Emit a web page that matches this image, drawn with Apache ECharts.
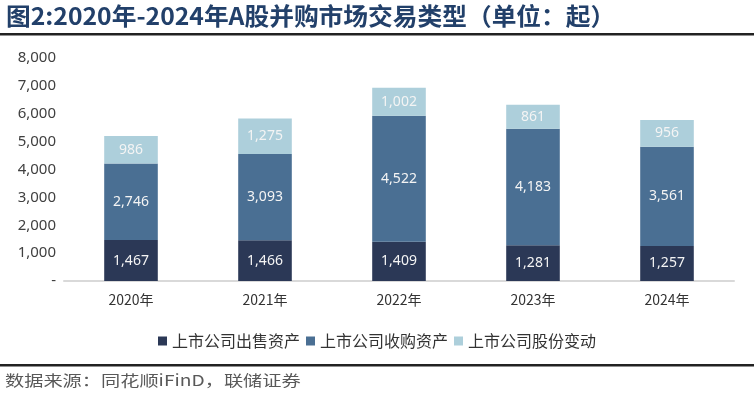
<!DOCTYPE html>
<html>
<head>
<meta charset="utf-8">
<script src="https://cdn.jsdelivr.net/npm/echarts@6/dist/echarts.min.js"></script>
<style>
  html, body { margin: 0; padding: 0; background: #fff; }
  #chart { width: 754px; height: 398px; }
</style>
</head>
<body>
<div id="chart"></div>
<script>
const years = ["2020年", "2021年", "2022年", "2023年", "2024年"];
const sellAssets = [1467, 1466, 1409, 1281, 1257];
const buyAssets = [2746, 3093, 4522, 4183, 3561];
const shareChange = [986, 1275, 1002, 861, 956];
const seriesNames = ["上市公司出售资产", "上市公司收购资产", "上市公司股份变动"];
const colors = ["#2b3856", "#4a6f93", "#adcfdb"];

const numFont = "'Noto Sans', 'Noto Sans CJK SC', sans-serif";
const cjkFont = "'Noto Sans CJK SC', sans-serif";

let myChart = echarts.init(document.getElementById("chart"));

function fmt(v) {
  return v === 0 ? "-" : v.toLocaleString("en-US");
}

function makeSeries(name, data, color) {
  return {
    name: name,
    type: "bar",
    stack: "total",
    data: data,
    barWidth: "40%",
    itemStyle: { color: color },
    label: {
      show: true,
      position: "inside",
      color: "#f4f4f4",
      fontSize: 14,
      fontFamily: numFont,
      formatter: (p) => fmt(p.value),
    },
  };
}

let option = {
  color: colors,
  animation: false,
  graphic: [
    {
      type: "text",
      x: 6,
      y: 4,
      scaleX: 1.03,
      style: {
        text: "图2:2020年-2024年A股并购市场交易类型（单位：起）",
        fill: "#22406a",
        font: "bold 24px 'Noto Sans CJK SC', sans-serif",
      },
    },
    {
      type: "rect",
      shape: { x: 0, y: 33, width: 754, height: 2.5 },
      style: { fill: "#222" },
    },
    {
      type: "rect",
      shape: { x: 0, y: 364, width: 754, height: 2.5 },
      style: { fill: "#222" },
    },
    {
      type: "text",
      x: 5,
      y: 373,
      scaleX: 1.28,
      style: {
        text: "数据来源：同花顺iFinD，联储证券",
        fill: "#595959",
        font: "15px 'Noto Sans CJK SC', sans-serif",
      },
    },
  ],
  legend: {
    bottom: 44,
    left: "center",
    itemWidth: 9,
    itemHeight: 9,
    itemGap: 6,
    icon: "rect",
    textStyle: { fontSize: 16, color: "#333", fontFamily: cjkFont },
    data: seriesNames,
  },
  grid: {
    left: 64,
    right: 20,
    top: 58,
    bottom: 117,
  },
  xAxis: {
    type: "category",
    data: years,
    axisTick: { show: false },
    axisLine: { show: true, lineStyle: { color: "#d9d9d9", width: 2 } },
    axisLabel: {
      color: "#333",
      fontSize: 14,
      fontFamily: cjkFont,
      margin: 12,
    },
  },
  yAxis: {
    type: "value",
    min: 0,
    max: 8000,
    interval: 1000,
    splitLine: { show: false },
    axisLine: { show: false },
    axisTick: { show: false },
    axisLabel: {
      color: "#404040",
      fontSize: 15,
      fontFamily: numFont,
      margin: 8,
      formatter: fmt,
    },
  },
  series: [
    makeSeries(seriesNames[0], sellAssets, colors[0]),
    makeSeries(seriesNames[1], buyAssets, colors[1]),
    makeSeries(seriesNames[2], shareChange, colors[2]),
  ],
};

myChart.setOption(option);
</script>
</body>
</html>
